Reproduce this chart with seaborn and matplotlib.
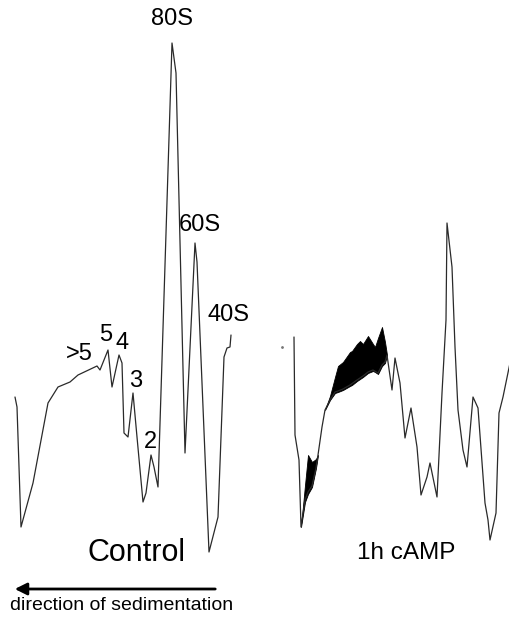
import numpy as np
import matplotlib
matplotlib.use('Agg')
import matplotlib.pyplot as plt
import seaborn as sns

# Sucrose gradient profiles (x: gradient position, y: trace depth, axis inverted)
control_x = [15, 17, 21, 33, 48, 58, 70, 78, 97, 100, 108, 112, 119, 122, 124, 128, 133, 137,
             143, 146, 151, 154, 158, 172, 176, 185, 195, 197, 209, 218, 224, 227, 230, 231]
control_y = [397, 407, 527, 483, 403, 387, 382, 375, 366, 370, 350, 387, 355, 363, 433, 437, 393, 437,
             502, 493, 455, 467, 487, 43, 73, 453, 243, 262, 552, 517, 357, 348, 347, 335]

camp_x = [294, 295, 299, 301, 305, 308, 312, 316, 318, 322, 325, 330, 335, 338, 343, 350, 357, 360,
          363, 368, 373, 378, 382, 385, 387, 392, 395, 400, 405, 411, 417, 421, 427, 430, 437, 442,
          446, 447, 452, 455, 458, 463, 467, 473, 478, 485, 488, 490, 496, 499, 503, 510]
camp_y = [337, 435, 460, 527, 500, 492, 486, 468, 455, 427, 410, 400, 392, 391, 389, 385, 380, 378,
          376, 372, 370, 373, 365, 362, 355, 390, 358, 383, 438, 408, 447, 495, 477, 463, 497, 393,
          320, 223, 267, 347, 410, 450, 467, 397, 408, 503, 520, 540, 513, 413, 397, 363]

# second (overlapping) trace in the cAMP run, drawn as a filled band
band1_x = [301, 305, 308, 312, 316, 318]
band1_lo = [527, 502, 494, 487, 468, 455]
band1_hi = [527, 485, 455, 462, 459, 455]
band2_x = [325, 330, 335, 338, 343, 350, 352, 357, 360, 363, 368, 373, 375, 378, 382, 385, 387]
band2_lo = [410, 400, 393, 392, 390, 386, 385, 381, 379, 377, 373, 371, 372, 374, 366, 363, 355]
band2_hi = [410, 396, 377, 366, 362, 352, 351, 344, 341, 344, 336, 344, 347, 338, 327, 342, 355]

peak_labels = ['80S', '60S', '40S', '>5', '5', '4', '3', '2']
peak_pos = [(172, 19), (200, 225), (229, 315), (79, 354), (106, 335), (122, 343), (136, 381), (150, 442)]

sns.set_style('white')
plt.rcParams['font.family'] = ['Liberation Sans', 'DejaVu Sans']
plt.rcParams['text.color'] = 'black'

fig = plt.figure(figsize=(5.1, 6.2), dpi=100)
ax = fig.add_axes([0, 0, 1, 1])

line_kw = dict(sort=False, estimator=None, color='#2a2a2a', linewidth=0.9, ax=ax)
sns.lineplot(x=control_x, y=control_y, **line_kw)
sns.lineplot(x=camp_x, y=camp_y, **line_kw)
ax.fill_between(band1_x, band1_lo, band1_hi, color='black', linewidth=0.6)
ax.fill_between(band2_x, band2_lo, band2_hi, color='black', linewidth=0.6)
ax.plot([282], [347], marker='.', markersize=2, color='#777777')

for lab, (px, py) in zip(peak_labels, peak_pos):
    ax.text(px, py, lab, fontsize=17, ha='center', va='center', color='black')

ax.text(137, 553, 'Control', fontsize=22, ha='center', va='center', color='black')
ax.text(406, 553, '1h cAMP', fontsize=17.5, ha='center', va='center', color='black')

ax.annotate('', xy=(12, 589), xytext=(218, 589),
            arrowprops=dict(arrowstyle='-|>', color='black', lw=2, mutation_scale=18))
ax.text(122, 606, 'direction of sedimentation', fontsize=14, ha='center', va='center', color='black')

ax.set_xlim(0, 510)
ax.set_ylim(620, 0)
ax.axis('off')

fig.savefig('out.png', dpi=100)
